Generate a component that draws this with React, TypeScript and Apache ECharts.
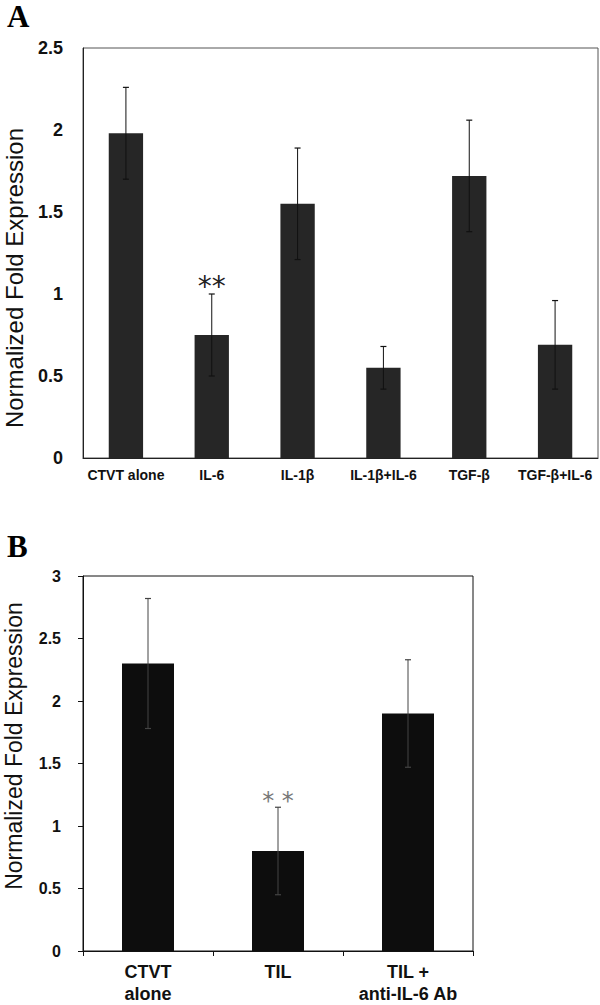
import React, { useEffect, useRef } from "react";
import * as echarts from "echarts";

// Panel A
const catsA = ["CTVT alone", "IL-6", "IL-1β", "IL-1β+IL-6", "TGF-β", "TGF-β+IL-6"];
const valsA = [1.98, 0.75, 1.55, 0.55, 1.72, 0.69];
const errA = [0.28, 0.25, 0.34, 0.13, 0.34, 0.27];
const sigA = ["", "**", "", "", "", ""];
const yMaxA = 2.5;
const yStepA = 0.5;

// Panel B
const catsB = ["CTVT\nalone", "TIL", "TIL +\nanti-IL-6 Ab"];
const valsB = [2.3, 0.8, 1.9];
const errB = [0.52, 0.35, 0.43];
const sigB = ["", "* *", ""];
const yMaxB = 3;
const yStepB = 0.5;

const yTitle = "Normalized Fold Expression";
const SANS = "'Liberation Sans', Arial, sans-serif";

function errRender(errs: number[], sigs: string[], capW: number, lineColor: string, sigStyle: any, sigOffset: number) {
  return (params: any, api: any) => {
    const i = params.dataIndex;
    const x = api.value(0);
    const v = api.value(1);
    const e = errs[i];
    const top = api.coord([x, v + e]);
    const bot = api.coord([x, v - e]);
    const cx = top[0];
    const children: any[] = [
      { type: "line", shape: { x1: cx, y1: top[1], x2: cx, y2: bot[1] }, style: { stroke: lineColor, lineWidth: 1 } },
      { type: "line", shape: { x1: cx - capW, y1: top[1], x2: cx + capW, y2: top[1] }, style: { stroke: lineColor, lineWidth: 1.2 } },
      { type: "line", shape: { x1: cx - capW, y1: bot[1], x2: cx + capW, y2: bot[1] }, style: { stroke: lineColor, lineWidth: 1.2 } },
    ];
    if (sigs[i]) {
      children.push({
        type: "text",
        style: { text: sigs[i], x: cx, y: top[1] - sigOffset, align: "center", verticalAlign: "middle", ...sigStyle },
      });
    }
    return { type: "group", children };
  };
}

export default function App() {
  const ref = useRef<HTMLDivElement>(null);
  useEffect(() => {
    if (!ref.current) return;
    const chart = echarts.init(ref.current, undefined, { renderer: "svg" });
    chart.setOption({
      animation: false,
      backgroundColor: "#ffffff",
      textStyle: { fontFamily: SANS },
      grid: [
        { left: 83, top: 48, width: 515, height: 410, show: true, borderColor: "#555", borderWidth: 1, backgroundColor: "transparent" },
        { left: 83, top: 576, width: 390, height: 377, show: true, borderColor: "#111", borderWidth: 1, backgroundColor: "transparent" },
      ],
      xAxis: [
        {
          gridIndex: 0,
          type: "category",
          data: catsA,
          axisLine: { show: true, lineStyle: { color: "#222", width: 1 } },
          axisTick: { show: false },
          axisLabel: { color: "#111", fontSize: 14, fontWeight: "bold", margin: 10, interval: 0, fontFamily: SANS },
        },
        {
          gridIndex: 1,
          type: "category",
          data: catsB,
          axisLine: { show: true, lineStyle: { color: "#111", width: 1 } },
          axisTick: { show: true, inside: false, length: 5, lineStyle: { color: "#111" } },
          axisLabel: { color: "#111", fontSize: 18, fontWeight: "bold", margin: 10, lineHeight: 22, interval: 0, fontFamily: SANS },
        },
      ],
      yAxis: [
        {
          gridIndex: 0,
          type: "value",
          min: 0,
          max: yMaxA,
          interval: yStepA,
          axisLine: { show: true, lineStyle: { color: "#222", width: 1 } },
          axisTick: { show: false },
          splitLine: { show: false },
          axisLabel: { color: "#111", fontSize: 18, fontWeight: "bold", margin: 20, fontFamily: SANS },
        },
        {
          gridIndex: 1,
          type: "value",
          min: 0,
          max: yMaxB,
          interval: yStepB,
          axisLine: { show: true, lineStyle: { color: "#111", width: 1 } },
          axisTick: { show: true, inside: false, length: 5, lineStyle: { color: "#111" } },
          splitLine: { show: false },
          axisLabel: { color: "#111", fontSize: 16, fontWeight: "bold", margin: 22, fontFamily: SANS },
        },
      ],
      series: [
        {
          type: "bar",
          xAxisIndex: 0,
          yAxisIndex: 0,
          data: valsA,
          barWidth: "40%",
          itemStyle: { color: "#262626" },
        },
        {
          type: "custom",
          xAxisIndex: 0,
          yAxisIndex: 0,
          data: valsA.map((v, i) => [i, v]),
          renderItem: errRender(errA, sigA, 3, "#111", { fontSize: 28, fontFamily: "'DejaVu Sans', sans-serif", fill: "#222" }, 8),
          z: 5,
        },
        {
          type: "bar",
          xAxisIndex: 1,
          yAxisIndex: 1,
          data: valsB,
          barWidth: "40%",
          itemStyle: { color: "#0d0d0d" },
        },
        {
          type: "custom",
          xAxisIndex: 1,
          yAxisIndex: 1,
          data: valsB.map((v, i) => [i, v]),
          renderItem: errRender(errB, sigB, 3, "#444", { fontSize: 24, fontFamily: "'DejaVu Sans', sans-serif", fill: "#777" }, 6),
          z: 5,
        },
      ],
      graphic: [
        { type: "text", left: 7, top: 1, style: { text: "A", fontSize: 31, fontWeight: "bold", fontFamily: "'Liberation Serif', 'Times New Roman', serif", fill: "#000" } },
        { type: "text", left: 7, top: 531, style: { text: "B", fontSize: 31, fontWeight: "bold", fontFamily: "'Liberation Serif', 'Times New Roman', serif", fill: "#000" } },
        { type: "text", x: 14, y: 278, rotation: Math.PI / 2, style: { text: yTitle, fontSize: 24, fontFamily: SANS, fill: "#111", align: "center", verticalAlign: "middle" } },
        { type: "text", x: 14, y: 746, rotation: Math.PI / 2, style: { text: yTitle, fontSize: 23, fontFamily: SANS, fill: "#111", align: "center", verticalAlign: "middle" } },
      ],
    });
    return () => chart.dispose();
  }, []);
  return <div ref={ref} style={{ position: "absolute", left: 0, top: 0, width: 600, height: 1005 }} />;
}
